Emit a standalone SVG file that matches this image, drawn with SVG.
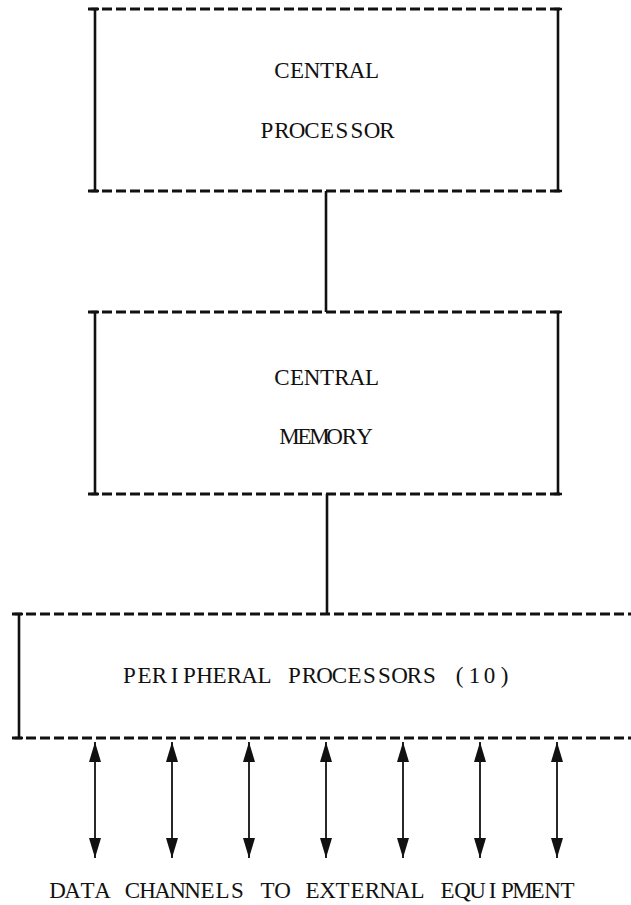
<svg xmlns="http://www.w3.org/2000/svg" width="631" height="905" viewBox="0 0 631 905">
<defs>
<style>
.dash{stroke:#111;stroke-width:3;stroke-dasharray:10 4;fill:none}
.side{stroke:#111;stroke-width:2.6;fill:none}
.link{stroke:#111;stroke-width:2.6;fill:none}
.arr{stroke:#111;stroke-width:1.8;fill:none;marker-start:url(#ah);marker-end:url(#ah)}
.t{font-family:"Liberation Serif","Times New Roman",serif;font-size:23px;fill:#111;text-anchor:middle}
</style>
<marker id="ah" viewBox="0 0 20 12" refX="20" refY="6" markerWidth="20" markerHeight="12" markerUnits="userSpaceOnUse" orient="auto-start-reverse">
<path d="M0,0 L20,6 L0,12 z" fill="#111"/>
</marker>
</defs>
<rect width="631" height="905" fill="#fff"/>
<g id="central-processor">
<line class="dash" x1="88" y1="9" x2="562" y2="9"/>
<line class="dash" x1="88" y1="191" x2="562" y2="191"/>
<path class="side" d="M95,9 V191 M91,9 H99 M91,191 H99 M558,9 V191 M554,9 H562 M554,191 H562"/>
<text class="t" x="282 297 312 327 342 357 372" y="78">CENTRAL</text>
<text class="t" x="267 282 297 312 327 342 357 372 387" y="138">PROCESSOR</text>
</g>
<g id="central-memory">
<line class="dash" x1="88" y1="312" x2="562" y2="312"/>
<line class="dash" x1="88" y1="494" x2="562" y2="494"/>
<path class="side" d="M95,312 V494 M91,312 H99 M91,494 H99 M558,312 V494 M554,312 H562 M554,494 H562"/>
<text class="t" x="282 297 312 327 342 357 372" y="385">CENTRAL</text>
<text class="t" x="289.5 304.5 319.5 334.5 349.5 364.5" y="444">MEMORY</text>
</g>
<g id="peripheral-processors">
<line class="dash" x1="12" y1="614" x2="631" y2="614"/>
<line class="dash" x1="12" y1="738" x2="631" y2="738"/>
<path class="side" d="M19,614 V738 M15,614 H23 M15,738 H23"/>
<text class="t" x="129.5 144.5 159.5 174.5 189.5 204.5 219.5 234.5 249.5 264.5 279.5 294.5 309.5 324.5 339.5 354.5 369.5 384.5 399.5 414.5 429.5 444.5 459.5 474.5 489.5 504.5" y="683">PERIPHERAL PROCESSORS (10)</text>
</g>
<g id="connectors">
<line class="link" x1="326" y1="191" x2="326" y2="312"/>
<line class="link" x1="327" y1="494" x2="327" y2="614"/>
<line class="arr" x1="95" y1="742" x2="95" y2="858"/>
<line class="arr" x1="172" y1="742" x2="172" y2="858"/>
<line class="arr" x1="249" y1="742" x2="249" y2="858"/>
<line class="arr" x1="326" y1="742" x2="326" y2="858"/>
<line class="arr" x1="403" y1="742" x2="403" y2="858"/>
<line class="arr" x1="480" y1="742" x2="480" y2="858"/>
<line class="arr" x1="557" y1="742" x2="557" y2="858"/>
</g>
<g id="channels-label">
<text class="t" x="57.5 72.5 87.5 102.5 117.5 132.5 147.5 162.5 177.5 192.5 207.5 222.5 237.5 252.5 267.5 282.5 297.5 312.5 327.5 342.5 357.5 372.5 387.5 402.5 417.5 432.5 447.5 462.5 477.5 492.5 507.5 522.5 537.5 552.5 567.5" y="898">DATA CHANNELS TO EXTERNAL EQUIPMENT</text>
</g>
</svg>
